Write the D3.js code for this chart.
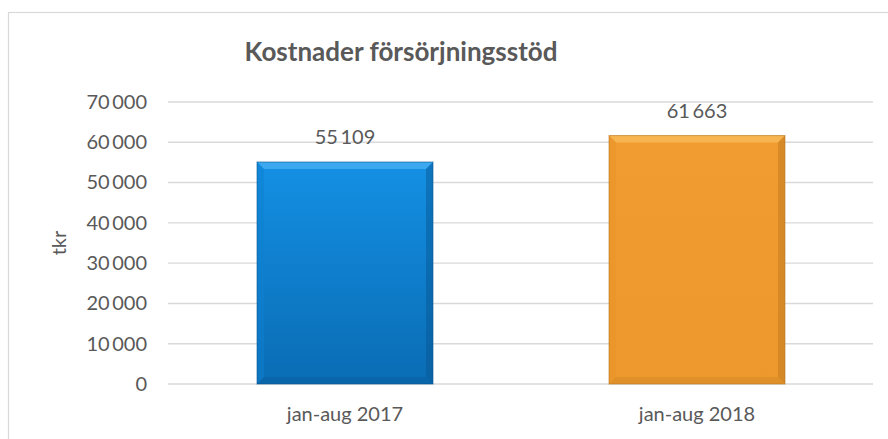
<!DOCTYPE html>
<html><head><meta charset="utf-8">
<script src="https://cdn.jsdelivr.net/npm/d3@7"></script>
<style>body{margin:0;background:#fff}svg{display:block}text{font-family:Lato,"Open Sans",sans-serif;fill:#595959}</style>
</head><body>
<svg id="c" width="888" height="439"></svg>
<script>
const categories = ["jan-aug 2017", "jan-aug 2018"];
const values = [55109, 61663];
const valueLabels = ["55\u2009109", "61\u2009663"];
const yTicks = [0, 10000, 20000, 30000, 40000, 50000, 60000, 70000];
const title = "Kostnader försörjningsstöd";
const yTitle = "tkr";
const palette = [
  {top:"#1490e4", bottom:"#0a6cb4", light:"#45aef2", dark:"#06558f", side:"#0d7fcf"},
  {top:"#f09c30", bottom:"#ec982c", light:"#f8bc5a", dark:"#b8761f", side:"#e89428"}
];

const svg = d3.select("#c");
const m = {l:169, r:873, t:102, b:384};
const x = d3.scaleBand().domain(categories).range([m.l, m.r]).paddingInner(0.5).paddingOuter(0.25);
const y = d3.scaleLinear().domain([0, 70000]).range([m.b, m.t]);
const fmt = v => d3.format(",")(v).replace(/,/g, "\u2009");

// chart border
svg.append("rect").attr("x", 8.5).attr("y", 12.5).attr("width", 900).attr("height", 460)
  .attr("fill", "#fff").attr("stroke", "#d9d9d9").attr("stroke-width", 1.2);

// gridlines
svg.append("g").selectAll("line").data(yTicks).join("line")
  .attr("x1", m.l - 1).attr("x2", m.r).attr("y1", d => y(d)).attr("y2", d => y(d))
  .attr("stroke", "#d9d9d9").attr("stroke-width", 1.4);

// y axis labels
const ya = svg.append("g").attr("transform", `translate(${m.l - 22},0)`)
  .call(d3.axisLeft(y).tickValues(yTicks).tickFormat(fmt).tickSize(0).tickPadding(0));
ya.select(".domain").remove();
ya.selectAll("text").attr("font-size", 20).attr("fill", "#595959")
  .style("font-family", "Lato, 'Open Sans', sans-serif");

// x axis labels
const xa = svg.append("g").attr("transform", `translate(0,${m.b + 23})`)
  .call(d3.axisBottom(x).tickSize(0).tickPadding(0));
xa.select(".domain").remove();
xa.selectAll("text").attr("font-size", 20).attr("fill", "#595959")
  .style("font-family", "Lato, 'Open Sans', sans-serif");

// gradients
const defs = svg.append("defs");
palette.forEach((p, i) => {
  const g = defs.append("linearGradient").attr("id", "g" + i).attr("x1", 0).attr("y1", 0).attr("x2", 0).attr("y2", 1);
  g.append("stop").attr("offset", 0).attr("stop-color", p.top);
  g.append("stop").attr("offset", 1).attr("stop-color", p.bottom);
});

// bars with bevel
const bev = 7;
const bars = svg.append("g").selectAll("g").data(values).join("g");
bars.each(function(v, i) {
  const g = d3.select(this);
  const p = palette[i];
  const x0 = x(categories[i]), x1 = x0 + x.bandwidth();
  const y0 = y(v), y1 = y(0);
  g.append("rect").attr("x", x0).attr("y", y0).attr("width", x1 - x0).attr("height", y1 - y0).attr("fill", `url(#g${i})`);
  const poly = pts => g.append("polygon").attr("points", pts.map(q => q.join(",")).join(" "));
  poly([[x0,y0],[x1,y0],[x1-bev,y0+bev],[x0+bev,y0+bev]]).attr("fill", p.light).attr("opacity", 0.8);
  poly([[x0,y0],[x0+bev,y0+bev],[x0+bev,y1-bev],[x0,y1]]).attr("fill", p.side).attr("opacity", 0.5);
  poly([[x1,y0],[x1,y1],[x1-bev,y1-bev],[x1-bev,y0+bev]]).attr("fill", p.dark).attr("opacity", 0.45);
  poly([[x0,y1],[x0+bev,y1-bev],[x1-bev,y1-bev],[x1,y1]]).attr("fill", p.dark).attr("opacity", 0.25);
  g.append("rect").attr("x", x0).attr("y", y0).attr("width", x1 - x0).attr("height", y1 - y0)
    .attr("fill", "none").attr("stroke", p.dark).attr("stroke-width", 1).attr("opacity", 0.6);
  g.append("text").attr("x", (x0 + x1) / 2).attr("y", y0 - 18).attr("text-anchor", "middle")
    .attr("font-size", 20).text(valueLabels[i]);
});

// title
svg.append("text").attr("x", 401).attr("y", 61).attr("text-anchor", "middle")
  .attr("font-size", 26).attr("font-weight", "bold").text(title);

// y title
svg.append("text").attr("transform", "translate(66,243) rotate(-90)").attr("text-anchor", "middle")
  .attr("font-size", 20).text(yTitle);
</script>
</body></html>
